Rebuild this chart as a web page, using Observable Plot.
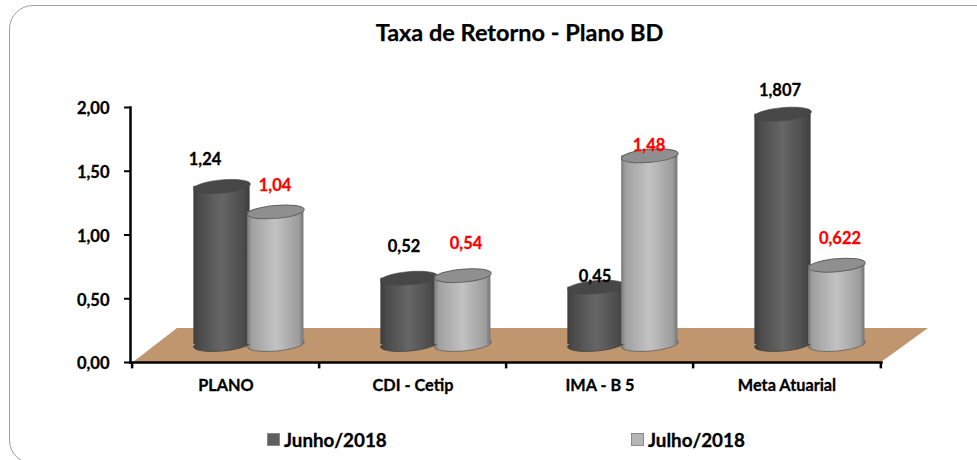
<!DOCTYPE html>
<html><head><meta charset="utf-8">
<script src="https://cdn.jsdelivr.net/npm/d3@7"></script>
<script src="https://cdn.jsdelivr.net/npm/@observablehq/plot@0.6"></script>
<style>
html,body{margin:0;padding:0;background:#fff;}
#wrap{position:relative;width:977px;height:460px;overflow:hidden;font-family:Lato,sans-serif;font-weight:700;color:#000;}
#box{position:absolute;left:8.5px;top:4.5px;width:990px;height:459px;border:1.6px solid #a0a0a0;border-radius:24px;box-sizing:border-box;}
#title{position:absolute;left:0;top:19px;width:1039px;text-align:center;font-size:23.5px;line-height:26px;-webkit-text-stroke:.25px #000;}
#chart{position:absolute;left:0;top:0;}
.lg{position:absolute;top:427px;font-size:18.8px;line-height:26px;white-space:nowrap;-webkit-text-stroke:.3px #000;}
.lg i{position:absolute;left:-17px;top:6px;width:13px;height:13px;box-sizing:border-box;border:1px solid #8a8a8a;}
</style></head>
<body><div id="wrap"><div id="box"></div><div id="chart"></div>
<div id="title">Taxa de Retorno - Plano BD</div>
<div class="lg" style="left:284px"><i style="background:#5f5f5f"></i>Junho/2018</div>
<div class="lg" style="left:648px"><i style="background:#b5b5b5"></i>Julho/2018</div>
</div>
<script>
const categories = ["PLANO", "CDI - Cetip", "IMA - B 5", "Meta Atuarial"];
const junho = [1.24, 0.52, 0.45, 1.807];
const julho = [1.04, 0.54, 1.48, 0.622];
const junhoLabels = ["1,24", "0,52", "0,45", "1,807"];
const julhoLabels = ["1,04", "0,54", "1,48", "0,622"];
const yTicks = [0, 0.5, 1, 1.5, 2];

// layout constants
const lift = 18, rx = 28.5, ry = 6.5, tilt = -5;
const darkOff = -4, lightOff = 49.8;
const labelNudgeJ = [[-21,-45],[-9,-49],[-5,-28],[-7,-41.5]];
const labelNudgeL = [[49,-44],[53,-50],[49,-28],[53,-44]];

const ellipse = {draw(c){
  const k = 0.5523;
  c.moveTo(-rx,0);
  c.bezierCurveTo(-rx,-ry*k,-rx*k,-ry,0,-ry);
  c.bezierCurveTo(rx*k,-ry,rx,-ry*k,rx,0);
  c.bezierCurveTo(rx,ry*k,rx*k,ry,0,ry);
  c.bezierCurveTo(-rx*k,ry,-rx,ry*k,-rx,0);
  c.closePath();
}};

function defs(){
  const svg = d3.create("svg:defs");
  const add=(id,stops)=>{const g=svg.append("linearGradient").attr("id",id);
    stops.forEach(([o,c])=>g.append("stop").attr("offset",o).attr("stop-color",c));};
  add("gDark",[[0,"#3e3e3e"],[.12,"#4c4c4c"],[.5,"#666666"],[.88,"#4c4c4c"],[1,"#3e3e3e"]]);
  add("gLight",[[0,"#7a7a7a"],[.08,"#a0a0a0"],[.5,"#c2c2c2"],[.92,"#9c9c9c"],[1,"#747474"]]);
  return svg.node();
}
function floor(i,s,v,d){
  const y0=s.y(0), y1=s.y(0.267), L=d.marginLeft, R=d.width-d.marginRight;
  const p=d3.create("svg:polygon")
    .attr("points",[[L+3,y0],[L+47,y1],[R+47,y1],[R,y0]].join(" "))
    .attr("fill","#c0966f");
  return p.node();
}
const rows = (vals,labs)=>vals.map((v,i)=>({cat:categories[i],v,lab:labs[i],i}));
const J = rows(junho,junhoLabels), U = rows(julho,julhoLabels);

function cyl(data,grad,off,cap,edge,edgeW){
  const band = 751/4, iL = band/2+off-rx, iR = band-iL-2*rx;
  return [
    Plot.dot(data,{x:"cat",y:0,dx:off,dy:-lift,symbol:ellipse,rotate:tilt,fill:`url(#${grad})`,stroke:edge,strokeWidth:.8}),
    Plot.barY(data,{x:"cat",y:"v",dy:-lift,insetLeft:iL,insetRight:iR,fill:`url(#${grad})`}),
    Plot.dot(data,{x:"cat",y:"v",dx:off,dy:-lift,symbol:ellipse,rotate:tilt,fill:cap,stroke:edge,strokeWidth:edgeW})
  ];
}
const labelMarks = (data,nudge,color)=>data.map((d,i)=>Plot.text([d],{x:"cat",y:"v",text:"lab",dx:nudge[i][0],dy:nudge[i][1],fill:color,stroke:color,strokeWidth:.3,fontSize:16.5,fontWeight:700}));

const chart = Plot.plot({
  width:977,height:460,marginLeft:130,marginRight:96,marginTop:107,marginBottom:98,
  style:{fontFamily:"Lato, sans-serif",background:"transparent",overflow:"visible"},
  x:{domain:categories,padding:0,label:null,axis:null},
  y:{domain:[0,2],label:null,axis:null},
  marks:[
    defs,
    floor,
    ...cyl(J,"gDark",darkOff,"#474747","#454545",.6),
    ...cyl(U,"gLight",lightOff,"#8f8f8f","#606060",1),
    Plot.frame({anchor:"left",stroke:"#000",strokeWidth:2.5}),
    Plot.frame({anchor:"bottom",stroke:"#000",strokeWidth:2.5}),
    Plot.axisY({ticks:yTicks,tickFormat:()=>"",tickSize:6,strokeWidth:2,stroke:"#000",label:null}),
    Plot.axisY({ticks:yTicks,tickFormat:d=>d.toFixed(2).replace(".",","),tickSize:0,tickPadding:21,dy:1.5,fill:"#000",textStroke:"#000",textStrokeWidth:.3,fontSize:16.5,fontWeight:700,label:null}),
    Plot.axisX({tickSize:0,tickPadding:17,fill:"#000",textStroke:"#000",textStrokeWidth:.3,fontSize:16.3,fontWeight:700,label:null}),
    Plot.ruleX(categories,{x:d=>d,y1:0,y2:-0.05,dx:-93.875,stroke:"#000",strokeWidth:2.5}),
    Plot.ruleX(categories.slice(-1),{x:d=>d,y1:0,y2:-0.05,dx:93.875,stroke:"#000",strokeWidth:2.5}),
    ...labelMarks(J,labelNudgeJ,"#000"),
    ...labelMarks(U,labelNudgeL,"#ff0000")
  ]
});
document.getElementById("chart").append(chart);
</script></body></html>
